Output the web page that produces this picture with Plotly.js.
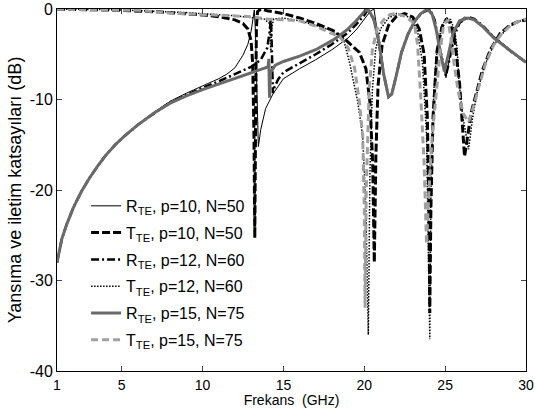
<!DOCTYPE html>
<html>
<head>
<meta charset="utf-8">
<script src="https://cdn.plot.ly/plotly-3.0.1.min.js"></script>
<style>html,body{margin:0;padding:0;background:#fff;}#chart{width:535px;height:408px;}</style>
</head>
<body>
<div id="chart"></div>
<script>
// ---- data ----
const seriesNames = [
  "R<sub>TE</sub>, p=10, N=50",
  "T<sub>TE</sub>, p=10, N=50",
  "R<sub>TE</sub>, p=12, N=60",
  "T<sub>TE</sub>, p=12, N=60",
  "R<sub>TE</sub>, p=15, N=75",
  "T<sub>TE</sub>, p=15, N=75"
];

const fR10 = [1,1.3,1.6,2,2.5,3,3.5,4,4.6,5.2,6,7,8,9,10,11,11.5,12,12.5,12.8,13.0,13.1,13.2,13.27,13.35,13.45,13.6,13.9,14.35,15,16,17,18,19,19.5,20,20.4,20.6,20.9,21.2,21.5,21.7,22,22.3,22.7,23.1,23.5,24.05,24.35,24.7,25.05,25.3,25.6,25.9,26.2,26.6,27,28,29,30];
const dR10 = [-28,-25.4,-23.8,-22,-20.2,-18.7,-17.4,-16.2,-15,-14,-12.8,-11.4,-10.2,-9.3,-8.5,-7.7,-7.2,-6.5,-5.1,-3.9,-2.5,-1.3,-0.1,-2.5,-8.5,-15.2,-13.3,-11,-9.4,-7.7,-6.6,-5.6,-4.5,-3.2,-2.3,-1.2,-0.2,0,-3.6,-7.2,-9.7,-9.4,-7.2,-4.8,-2.8,-1.4,-0.5,0,-1.2,-4.5,-7.6,-5.2,-2.6,-1.3,-0.9,-1,-1.4,-3,-4.5,-5.9];

const fT10 = [1,3,5,7,9,10,11,12,12.5,12.8,13.0,13.1,13.18,13.23,13.28,13.33,13.4,13.6,14,15,16,17,18.1,18.9,19.7,20.1,20.35,20.52,20.62,20.72,20.85,21.1,21.5,22,22.5,23,23.4,23.7,23.9,24.0,24.05,24.12,24.25,24.5,24.8,25.05,25.3,25.6,25.9,26.05,26.2,26.4,26.6,26.9,27.3,27.8,28.4,29,29.5,30];
const dT10 = [0,-0.05,-0.15,-0.3,-0.5,-0.65,-0.85,-1.2,-1.6,-2.2,-3.5,-6,-14,-25.3,-12,-2,-0.3,0,-0.2,-0.5,-1,-1.6,-2.4,-3.5,-4.8,-6.6,-10.3,-17,-28,-16,-8.5,-4,-1.8,-0.8,-0.5,-0.9,-2.2,-5,-12,-22,-33.6,-22,-12,-4.6,-2,-1.2,-1.5,-3.5,-8.4,-12,-16.3,-14,-11.5,-9.5,-6.8,-4.5,-2.7,-1.8,-1.4,-1.2];

const fR12 = [1,1.3,1.6,2,2.5,3,3.5,4,4.6,5.2,6,7,8,9,10,11,12,13,13.6,14.0,14.15,14.22,14.28,14.35,14.45,14.7,15,16,17,18,19,19.5,20,20.25,20.6,20.9,21.2,21.5,21.7,22,22.3,22.7,23.1,23.5,24.05,24.35,24.7,25.05,25.3,25.6,25.9,26.45,26.8,27.3,28,29,30];
const dR12 = [-28,-25.4,-23.8,-22,-20.2,-18.7,-17.4,-16.2,-15,-14,-12.8,-11.5,-10.3,-9.5,-8.7,-8,-7.2,-6.4,-5.6,-4.3,-2.5,-1,-4,-9.3,-8.6,-7.7,-7,-6,-5,-3.9,-2.6,-1.7,-0.7,0,-1.2,-3.6,-7.2,-9.7,-9.4,-7.2,-4.8,-2.8,-1.4,-0.5,0,-1.2,-4.6,-7.4,-5.3,-2.8,-1.5,-0.9,-1.1,-1.8,-3.1,-4.6,-5.9];

const fT12 = [1,5,9,11,12,13,13.8,14.15,14.22,14.28,14.4,15,16,17,18,18.7,19.1,19.6,19.9,20.1,20.25,20.35,20.5,20.7,21,21.5,22,22.5,23,23.3,23.6,23.85,24.0,24.05,24.12,24.3,24.5,24.8,25.1,25.35,25.6,25.75,25.85,26.1,26.45,26.7,27,27.5,28,28.5,29,29.5,30];
const dT12 = [0,-0.1,-0.4,-0.6,-0.75,-0.95,-1.1,-1.6,-4.8,-2,-1.1,-1,-1.3,-1.8,-2.4,-3.2,-6,-10.3,-14,-22,-36,-18,-9,-4.5,-2.2,-1,-0.5,-0.6,-1.3,-2.5,-6,-14,-28,-36.5,-20,-9,-4.5,-1.8,-1,-1.2,-2.5,-4.5,-8,-12,-15.5,-12,-9,-6,-4,-2.8,-1.9,-1.4,-1.1];

const fR15 = [1,1.3,1.6,2,2.5,3,3.5,4,4.6,5.2,6,7,8,9,10,11,12,13,13.6,14.05,14.1,14.14,14.2,14.5,15,16,17,18,18.5,19,19.5,19.8,20.1,20.3,20.6,20.9,21.2,21.5,21.7,22,22.3,22.7,23.1,23.5,23.9,24.2,24.45,24.7,24.95,25.2,25.5,25.9,26.4,26.8,27.3,28,29,30];
const dR15 = [-28,-25.4,-23.8,-22,-20.2,-18.7,-17.4,-16.2,-15,-14,-12.8,-11.5,-10.4,-9.6,-8.9,-8.3,-7.7,-7.1,-6.7,-6.4,-5.5,-9.8,-7,-6.2,-5.8,-5.2,-4.5,-3.5,-2.9,-2.2,-1.3,-0.7,-0.1,-0.2,-1.2,-3.6,-7.2,-9.7,-9.4,-7.2,-4.8,-2.8,-1.4,-0.5,0,-0.6,-2.3,-4.8,-6.9,-5,-2.6,-1.3,-1,-1.2,-1.9,-3.2,-4.6,-5.9];

const fT15 = [1,3,6,8,10,12,13,14,15,16,17,17.5,18,18.5,19,19.4,19.7,19.9,20.0,20.05,20.12,20.3,20.5,20.8,21.2,21.6,22,22.5,23.1,23.3,23.5,23.7,23.85,24.0,24.2,24.4,24.55,24.7,24.9,25.15,25.35,25.55,25.8,26.1,26.45,26.8,27.1,27.5,28,28.5,29,29.5,30];
const dT15 = [0,-0.1,-0.15,-0.45,-0.6,-0.75,-0.85,-1.1,-1.2,-1.3,-1.9,-2.3,-2.7,-3.1,-4.3,-6.5,-10.3,-14,-22,-33,-20,-9,-4.5,-2.2,-1.2,-0.6,-0.5,-0.8,-1.6,-4,-10,-17,-26,-20,-14,-10,-7,-4.6,-1.8,-1.2,-3,-6,-9,-11.5,-12.5,-10.5,-8.5,-6,-4,-2.7,-1.9,-1.4,-1.1];

const xTicks = [1,5,10,15,20,25,30];
const yTicks = [-40,-30,-20,-10,0];

// ---- styles ----
const styles = [
  {color:'#000000', width:1,   dash:'solid'},
  {color:'#000000', width:3,   dash:'8px,3px'},
  {color:'#000000', width:2.5, dash:'8px,3px,2px,3px'},
  {color:'#000000', width:1.5, dash:'1.5px,1.5px'},
  {color:'#6a6a6a', width:3,   dash:'solid'},
  {color:'#a0a0a0', width:3,   dash:'7px,4px'}
];
const xs = [fR10,fT10,fR12,fT12,fR15,fT15];
const ys = [dR10,dT10,dR12,dT12,dR15,dT15];

const traces = xs.map((x,i)=>({
  x: x, y: ys[i], type:'scatter', mode:'lines',
  name: seriesNames[i], legendgroup: 'g'+i,
  line: {color: styles[i].color, width: styles[i].width, dash: styles[i].dash}
}));

const fontFam = '"Liberation Sans", Arial, Helvetica, sans-serif';
const layout = {
  width:535, height:408,
  margin:{l:57, r:9, t:9, b:37},
  paper_bgcolor:'#fff', plot_bgcolor:'#fff',
  font:{family:fontFam, size:16, color:'#000'},
  showlegend:true,
  legend:{x:0.062, y:0.503, xanchor:'left', yanchor:'top', bgcolor:'rgba(0,0,0,0)',
          font:{family:fontFam, size:16, color:'#000'}, tracegroupgap:3, traceorder:'grouped'},
  xaxis:{range:[1,30], tickvals:xTicks, ticktext:xTicks.map(String), ticks:'inside', ticklen:5,
         ticklabelstandoff:1,
         showline:true, linecolor:'#000', linewidth:1, mirror:'ticks', showgrid:false, zeroline:false,
         tickfont:{size:14}, title:{text:'Frekans\u00a0 (GHz)', font:{size:14}, standoff:6}},
  yaxis:{range:[-40,0], tickvals:yTicks, ticktext:yTicks.map(String), ticks:'inside', ticklen:5,
         showline:true, linecolor:'#000', linewidth:1, mirror:'ticks', showgrid:false, zeroline:false,
         tickfont:{size:16}, title:{text:'Yansıma ve iletim katsayıları (dB)', font:{size:18}, standoff:3}}
};
Plotly.newPlot('chart', traces, layout, {displayModeBar:false, staticPlot:true});
</script>
</body>
</html>
